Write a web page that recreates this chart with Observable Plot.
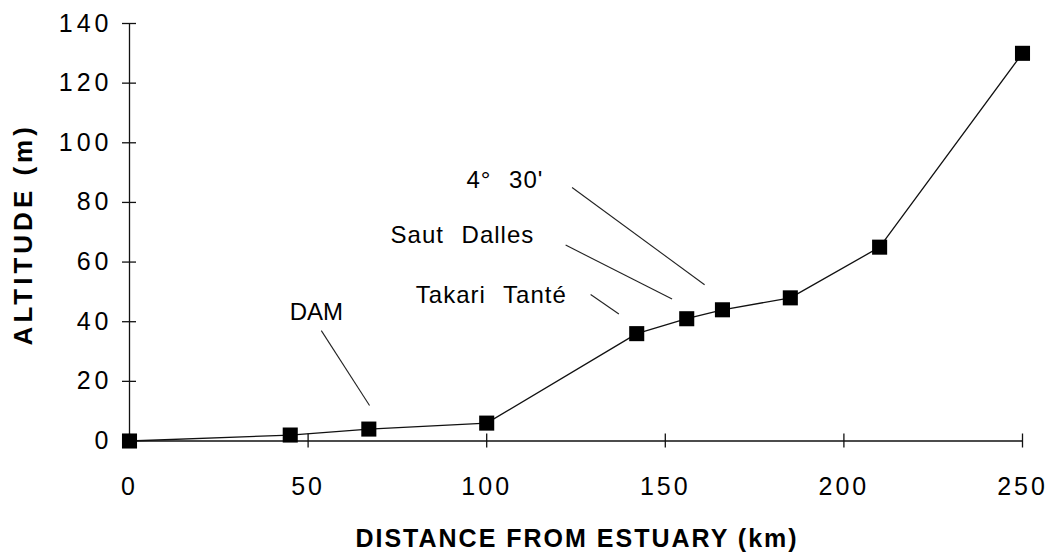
<!DOCTYPE html>
<html>
<head>
<meta charset="utf-8">
<script src="https://cdn.jsdelivr.net/npm/d3@7"></script>
<script src="https://cdn.jsdelivr.net/npm/@observablehq/plot@0.6"></script>
<style>
  html, body { margin: 0; padding: 0; background: #fff; }
  #chart svg { display: block; }
  #chart g[aria-label="x-axis tick label"] text { letter-spacing: 3px; }
  #chart g[aria-label="y-axis tick label"] text { letter-spacing: 4px; }
  #chart g[aria-description="xtitle"] text { letter-spacing: 2px; }
  #chart g[aria-description="ytitle"] text { letter-spacing: 4px; }
  #chart g[aria-description="names"] text { letter-spacing: 1px; word-spacing: 10px; }
</style>
</head>
<body>
<div id="chart"></div>
<script>
// Data
const distanceKm = [0, 45, 67, 100, 142, 156, 166, 185, 210, 250];
const altitudeM  = [0, 2, 4, 6, 36, 41, 44, 48, 65, 130];

const xTicks = [0, 50, 100, 150, 200, 250];
const yTicks = [0, 20, 40, 60, 80, 100, 120, 140];

// Annotations: label text, label centre and leader lines (data units)
const damText = ["DAM"];
const damX = [52.3];
const damY = [43.1];
const nameText = ["Takari Tanté", "Saut Dalles", "4° 30'"];
const nameX    = [101.3, 93.2, 105.1];
const nameY    = [48.8, 68.9, 87.3];
const leaderX1 = [53.7, 129.1, 122.1, 123.9];
const leaderY1 = [37.0, 49.1, 65.7, 85.0];
const leaderX2 = [67.2, 137.0, 151.9, 161.0];
const leaderY2 = [11.9, 42.6, 47.6, 52.4];

const points = distanceKm.map((d, i) => ({x: d, y: altitudeM[i]}));
const dam = damText.map((t, i) => ({text: t, x: damX[i], y: damY[i]}));
const names = nameText.map((t, i) => ({text: t, x: nameX[i], y: nameY[i]}));
const leaders = leaderX1.map((v, i) => ({x1: v, y1: leaderY1[i], x2: leaderX2[i], y2: leaderY2[i]}));

const font = "'Liberation Sans', Arial, Helvetica, sans-serif";

const chart = Plot.plot({
  width: 1049,
  height: 552,
  marginLeft: 129,
  marginRight: 27,
  marginTop: 23,
  marginBottom: 111.5,
  style: {fontFamily: font, background: "#fff", color: "#000", overflow: "visible"},
  x: {domain: [0, 250]},
  y: {domain: [0, 140]},
  marks: [
    // axis lines
    Plot.ruleY([0], {stroke: "#111", strokeWidth: 1.6}),
    Plot.ruleX([0], {stroke: "#111", strokeWidth: 1.3}),
    // crossing ticks
    Plot.axisX({ticks: xTicks, tickSize: 14, dy: -7, tickFormat: () => "", stroke: "#111", strokeWidth: 1.3}),
    Plot.axisY({ticks: yTicks, tickSize: 14, dx: 7, tickFormat: () => "", stroke: "#111", strokeWidth: 1.3}),
    // tick labels
    Plot.axisX({ticks: xTicks, tickSize: 0, tickPadding: 36, fontSize: 25, label: null, fill: "#000", dx: 0}),
    Plot.axisY({ticks: yTicks, tickSize: 0, tickPadding: 17, fontSize: 25, label: null, fill: "#000"}),
    // axis titles
    Plot.text(["DISTANCE FROM ESTUARY (km)"], {frameAnchor: "bottom", textAnchor: "middle", dx: 1, dy: 106,
      fontSize: 25, fontWeight: "bold", fill: "#000", ariaDescription: "xtitle"}),
    Plot.text(["ALTITUDE (m)"], {frameAnchor: "left", textAnchor: "middle", dx: -106, dy: 2, rotate: -90,
      fontSize: 26, fontWeight: "bold", fill: "#000", ariaDescription: "ytitle"}),
    // leader lines
    Plot.link(leaders, {x1: "x1", y1: "y1", x2: "x2", y2: "y2", stroke: "#222", strokeWidth: 1.1}),
    // labels
    Plot.text(dam, {x: "x", y: "y", text: "text", fontSize: 24, fill: "#000"}),
    Plot.text(names, {x: "x", y: "y", text: "text", fontSize: 24, fill: "#000", ariaDescription: "names"}),
    // profile line and markers
    Plot.line(points, {x: "x", y: "y", stroke: "#111", strokeWidth: 1.3}),
    Plot.dot(points, {x: "x", y: "y", symbol: "square", r: 8.5, fill: "#000", stroke: "none"})
  ]
});

document.getElementById("chart").appendChild(chart);
</script>
</body>
</html>
